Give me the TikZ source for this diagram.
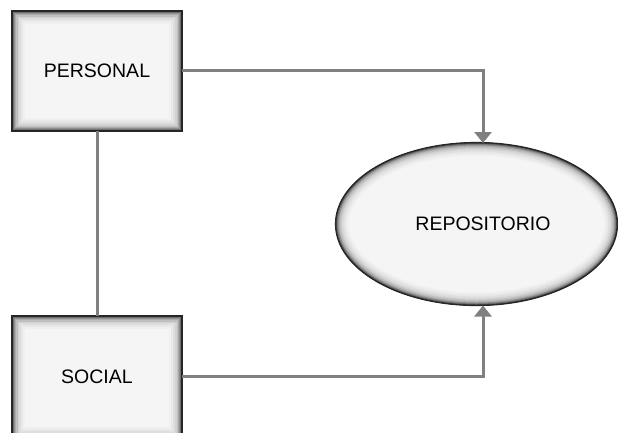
\documentclass[tikz,border=0pt]{standalone}
\usepackage{fontspec}
\setmainfont{Liberation Sans}
\usetikzlibrary{arrows.meta}
\begin{document}
\begin{tikzpicture}[x=1pt,y=-1pt,
  link/.style={draw=black!50, line width=3pt},
  tip/.style={-{Triangle[width=17pt,length=11pt]}},
  label/.style={font=\fontsize{19.5}{23}\selectfont, text=black}]
\useasboundingbox (0,0) rectangle (618,432);

% inner-shadowed shapes: clip to the outline, then stack outlines from wide/light to narrow/dark
\def\shadedshape#1{%
  \begin{scope}
    \clip #1;
    \fill[black!4] #1;
    \foreach \w/\c in {26/6,22/9,18/13,14/18,11/25,8/33,6/44,4/56,2.5/68,1.5/78}{
      \draw[black!\c, line width=\w pt] #1;
    }
  \end{scope}
  \draw[black!85, line width=1.2pt] #1;
}

\shadedshape{(12,11) rectangle (182,131)}
\shadedshape{(12,316) rectangle (182,440)}
\shadedshape{(476.5,224) ellipse [x radius=141, y radius=81.5]}

\node[label] (personal) at (97,71) {PERSONAL};
\node[label] (social) at (97,377) {SOCIAL};
\node[label] (repo) at (483,224) {REPOSITORIO};

\coordinate (pR) at (182,70);
\coordinate (pB) at (97,131);
\coordinate (sR) at (182,376);
\coordinate (sT) at (97,316);
\coordinate (eT) at (483,143);
\coordinate (eB) at (483,305.5);

\draw[link] (pB) -- (sT);
\draw[link, tip] (pR) -| (eT);
\draw[link, tip] (sR) -| (eB);
\end{tikzpicture}
\end{document}
